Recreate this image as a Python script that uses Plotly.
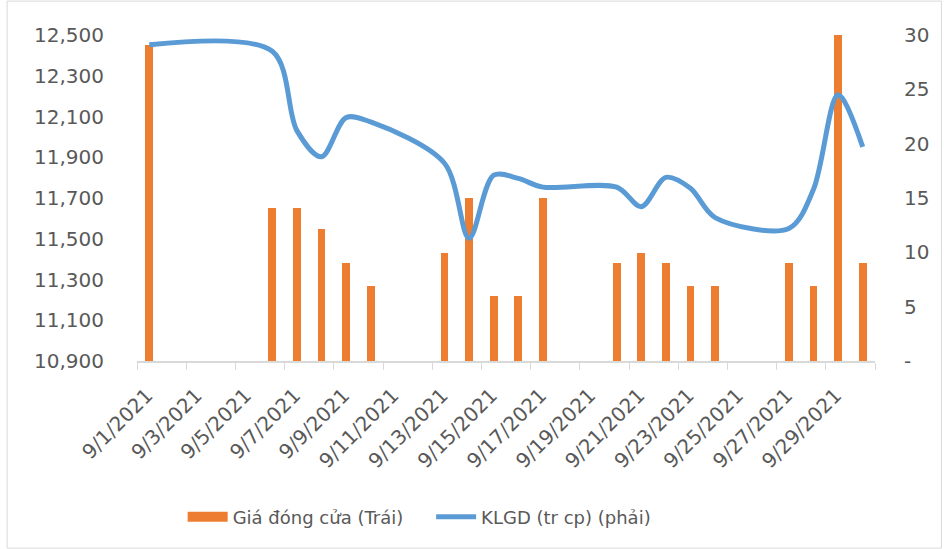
import plotly.graph_objects as go
import pandas as pd

dates = ["2021-09-01", "2021-09-06", "2021-09-07", "2021-09-08", "2021-09-09", "2021-09-10",
         "2021-09-13", "2021-09-14", "2021-09-15", "2021-09-16", "2021-09-17",
         "2021-09-20", "2021-09-21", "2021-09-22", "2021-09-23", "2021-09-24",
         "2021-09-27", "2021-09-28", "2021-09-29", "2021-09-30"]
close_price = [12450, 11650, 11650, 11550, 11380, 11270,
               11430, 11700, 11220, 11220, 11700,
               11380, 11430, 11380, 11270, 11270,
               11380, 11270, 12500, 11380]
volume = [29.1, 28.5, 21.2, 18.8, 22.4, 22.0,
          18.2, 11.3, 17.1, 16.8, 16.0,
          16.0, 14.2, 16.9, 15.9, 13.2,
          12.2, 15.8, 24.5, 19.7]

left_ticks = list(range(10900, 12501, 200))
right_ticks = [0, 5, 10, 15, 20, 25, 30]
right_ticktext = ["-", "5", "10", "15", "20", "25", "30"]

# bars centred on each day's slot (Excel-like date axis)
xpos = pd.to_datetime(dates) + pd.Timedelta(hours=12)
xtick_vals = pd.date_range("2021-09-01", "2021-10-01", freq="2D")
xtick_text = [f"{d.month}/{d.day}/{d.year}" if d.month == 9 else "" for d in xtick_vals]

FONT = "DejaVu Sans"
GREY = "#595959"
AX = "#d9d9d9"
ORANGE = "#ed7d31"
BLUE = "#5b9bd5"
NB = "\u00a0"

fig = go.Figure()
fig.add_trace(go.Bar(x=xpos, y=close_price, name="Giá đóng cửa (Trái)",
                     marker=dict(color=ORANGE, line=dict(width=0)),
                     width=0.32 * 86400000, yaxis="y", showlegend=False))
# legend proxy giving the wide rectangular swatch of the original
fig.add_trace(go.Scatter(x=[None], y=[None], name="Giá đóng cửa (Trái)" + NB * 4, mode="lines",
                         line=dict(color=ORANGE, width=10), yaxis="y"))
fig.add_trace(go.Scatter(x=xpos, y=volume, name="KLGD (tr cp) (phải)", mode="lines",
                         line=dict(color=BLUE, width=5, shape="spline", smoothing=0.9),
                         yaxis="y2"))

fig.update_layout(
    width=944, height=549,
    margin=dict(l=137, r=69, t=35, b=188),
    paper_bgcolor="white", plot_bgcolor="white",
    font=dict(family=FONT, size=20, color=GREY),
    showlegend=True,
    legend=dict(orientation="h", x=0.383, xanchor="center", y=-0.479, yanchor="middle",
                font=dict(family=FONT, size=18, color=GREY), itemwidth=40, traceorder="normal"),
    xaxis=dict(type="date", range=["2021-09-01", "2021-10-01"],
               tickmode="array", tickvals=xtick_vals, ticktext=xtick_text,
               tickangle=-45, ticks="outside", ticklen=7, tickcolor=AX,
               ticklabelshift=10, ticklabelstandoff=6,
               showline=True, linecolor=AX, linewidth=1.5, showgrid=False, zeroline=False,
               tickfont=dict(family=FONT, size=20, color=GREY)),
    yaxis=dict(range=[10900, 12500], tickmode="array", tickvals=left_ticks,
               tickformat=",", showgrid=False, zeroline=False, showline=False,
               ticklabelstandoff=32, tickfont=dict(family=FONT, size=20, color=GREY)),
    yaxis2=dict(range=[0, 30], overlaying="y", side="right", tickmode="array",
                tickvals=right_ticks, ticktext=right_ticktext, showgrid=False,
                zeroline=False, showline=False, ticklabelstandoff=28,
                tickfont=dict(family=FONT, size=20, color=GREY)),
    bargap=0,
)

fig.add_shape(type="rect", xref="paper", yref="paper",
              x0=-0.176, x1=1.09, y0=-0.574, y1=1.104,
              line=dict(color="#d9d9d9", width=1), layer="below")

fig.write_html("out.html", config={"displayModeBar": False},
               post_script="document.body.style.margin='0';document.body.style.overflow='hidden';")
